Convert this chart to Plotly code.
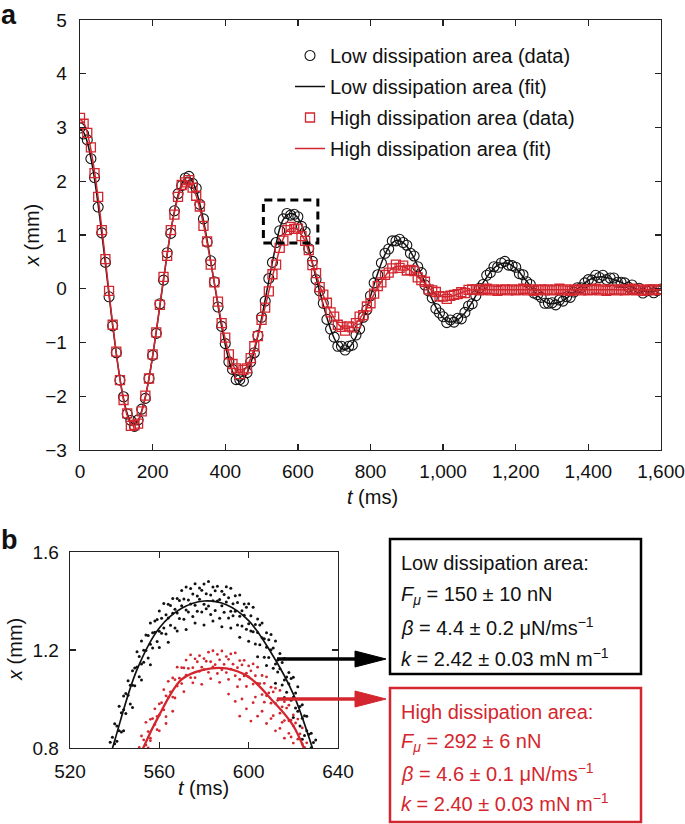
import plotly.graph_objects as go

W, H = 685, 824
FONT = "Liberation Sans"
RED = "#d3262e"
BLK = "#111111"

# ---------------- Panel a data (t in ms, x in mm) ----------------
t_grid = list(range(0, 1610, 10))

low_fit = [
    2.97, 2.91, 2.73, 2.43, 2.04, 1.56, 1.03, 0.46, -0.12, -0.69,
    -1.21, -1.67, -2.05, -2.32, -2.48, -2.52, -2.45, -2.27, -2.01, -1.67,
    -1.26, -0.80, -0.32, 0.17, 0.64, 1.07, 1.44, 1.74, 1.95, 2.06,
    2.07, 1.99, 1.83, 1.58, 1.27, 0.91, 0.51, 0.10, -0.31, -0.70,
    -1.04, -1.33, -1.54, -1.68, -1.72, -1.68, -1.57, -1.39, -1.16, -0.87,
    -0.55, -0.20, 0.15, 0.50, 0.83, 1.12, 1.29, 1.37, 1.40, 1.385,
    1.32, 1.19, 1.02, 0.76, 0.48, 0.21, -0.05, -0.30, -0.54, -0.75,
    -0.92, -1.04, -1.11, -1.13, -1.10, -1.02, -0.90, -0.74, -0.56, -0.35,
    -0.14, 0.08, 0.29, 0.48, 0.64, 0.77, 0.85, 0.90, 0.89, 0.86,
    0.79, 0.69, 0.57, 0.42, 0.27, 0.11, -0.05, -0.20, -0.34, -0.45,
    -0.54, -0.60, -0.62, -0.61, -0.58, -0.52, -0.45, -0.35, -0.25, -0.13,
    -0.01, 0.11, 0.21, 0.31, 0.38, 0.44, 0.47, 0.48, 0.47, 0.43,
    0.38, 0.31, 0.22, 0.14, 0.05, -0.04, -0.12, -0.19, -0.24, -0.27,
    -0.28, -0.27, -0.25, -0.22, -0.18, -0.12, -0.07, -0.01, 0.05, 0.11,
    0.15, 0.19, 0.21, 0.22, 0.22, 0.21, 0.19, 0.17, 0.15, 0.12,
    0.09, 0.06, 0.03, 0.00, -0.02, -0.04, -0.05, -0.05, -0.045, -0.035,
    -0.025,
]

high_fit = [
    3.15, 3.09, 2.90, 2.59, 2.18, 1.69, 1.13, 0.54, -0.07, -0.66,
    -1.20, -1.68, -2.07, -2.36, -2.52, -2.555, -2.47, -2.29, -2.02, -1.66,
    -1.25, -0.79, -0.30, 0.18, 0.64, 1.07, 1.42, 1.70, 1.90, 1.99,
    1.99, 1.90, 1.73, 1.49, 1.20, 0.86, 0.49, 0.11, -0.27, -0.63,
    -0.94, -1.20, -1.40, -1.52, -1.56, -1.53, -1.44, -1.30, -1.10, -0.87,
    -0.61, -0.33, -0.05, 0.23, 0.48, 0.74, 0.935, 1.08, 1.12, 1.125,
    1.09, 1.00, 0.89, 0.68, 0.47, 0.27, 0.07, -0.12, -0.29, -0.43,
    -0.55, -0.65, -0.71, -0.74, -0.73, -0.70, -0.64, -0.56, -0.46, -0.35,
    -0.23, -0.10, 0.02, 0.13, 0.23, 0.32, 0.38, 0.41, 0.42, 0.41,
    0.38, 0.34, 0.29, 0.22, 0.16, 0.09, 0.02, -0.04, -0.09, -0.12,
    -0.145, -0.15, -0.14, -0.125, -0.10, -0.075, -0.05, -0.03, -0.02, -0.02,
    -0.02, -0.02, -0.02, -0.02, -0.02, -0.02, -0.02, -0.02, -0.02, -0.02,
    -0.02, -0.02, -0.02, -0.02, -0.02, -0.02, -0.02, -0.02, -0.02, -0.02,
    -0.02, -0.02, -0.02, -0.02, -0.02, -0.02, -0.02, -0.02, -0.02, -0.02,
    -0.02, -0.02, -0.02, -0.02, -0.02, -0.02, -0.02, -0.02, -0.02, -0.02,
    -0.02, -0.02, -0.02, -0.02, -0.02, -0.02, -0.02, -0.02, -0.02, -0.02,
    -0.02,
]

low_data = [
    2.99, 2.88, 2.77, 2.42, 2.07, 1.52, 1.04, 0.49, -0.15, -0.69,
    -1.19, -1.70, -2.01, -2.33, -2.45, -2.56, -2.44, -2.24, -2.04, -1.67,
    -1.24, -0.83, -0.28, 0.16, 0.67, 1.03, 1.45, 1.77, 1.92, 2.06,
    2.09, 1.96, 1.87, 1.57, 1.30, 0.87, 0.52, 0.13, -0.34, -0.70,
    -1.02, -1.36, -1.50, -1.69, -1.69, -1.72, -1.56, -1.36, -1.19, -0.87,
    -0.53, -0.23, 0.19, 0.49, 0.86, 1.08, 1.30, 1.40, 1.37, 1.385,
    1.34, 1.16, 1.06, 0.75, 0.51, 0.17, -0.04, -0.27, -0.57, -0.75,
    -0.90, -1.07, -1.07, -1.14, -1.07, -1.05, -0.86, -0.75, -0.53, -0.39,
    -0.13, 0.11, 0.26, 0.48, 0.66, 0.74, 0.89, 0.89, 0.92, 0.86,
    0.81, 0.66, 0.61, 0.41, 0.30, 0.07, -0.04, -0.17, -0.37, -0.45,
    -0.52, -0.63, -0.58, -0.62, -0.55, -0.56, -0.44, -0.32, -0.28, -0.13,
    0.01, 0.08, 0.25, 0.30, 0.41, 0.40, 0.48, 0.51, 0.44, 0.43,
    0.40, 0.28, 0.26, 0.13, 0.08, -0.08, -0.11, -0.16, -0.27, -0.27,
    -0.26, -0.30, -0.21, -0.23, -0.15, -0.16, -0.06, 0.02, 0.02, 0.11,
    0.17, 0.16, 0.25, 0.21, 0.25, 0.17, 0.20, 0.20, 0.12, 0.12,
    0.11, 0.03, 0.07, -0.01, 0.01, -0.08, -0.04, -0.02, -0.075, -0.035,
    -0.005,
]

high_data = [
    3.18, 3.07, 2.90, 2.63, 2.15, 1.71, 1.09, 0.55, -0.04, -0.67,
    -1.17, -1.70, -2.07, -2.32, -2.55, -2.535, -2.51, -2.28, -1.99, -1.67,
    -1.22, -0.81, -0.30, 0.22, 0.61, 1.09, 1.38, 1.71, 1.93, 1.98,
    2.02, 1.88, 1.73, 1.53, 1.17, 0.88, 0.45, 0.12, -0.24, -0.64,
    -0.91, -1.22, -1.40, -1.48, -1.59, -1.51, -1.48, -1.29, -1.07, -0.88,
    -0.58, -0.35, -0.05, 0.27, 0.45, 0.76, 0.895, 1.09, 1.15, 1.115,
    1.12, 0.98, 0.89, 0.72, 0.44, 0.29, 0.03, -0.11, -0.26, -0.44,
    -0.52, -0.67, -0.71, -0.78, -0.70, -0.72, -0.64, -0.52, -0.49, -0.33,
    -0.27, -0.09, 0.05, 0.12, 0.26, 0.30, 0.38, 0.45, 0.39, 0.43,
    0.34, 0.35, 0.33, 0.21, 0.16, 0.13, -0.01, -0.03, -0.06, -0.14,
    -0.145, -0.19, -0.13, -0.115, -0.10, -0.065, -0.08, -0.02, -0.01, -0.01,
    -0.03, -0.02, 0.00, -0.03, -0.01, -0.04, -0.02, -0.01, -0.03, -0.01,
    -0.03, -0.02, 0.00, -0.03, -0.01, -0.04, -0.02, -0.01, -0.03, -0.01,
    -0.03, -0.02, 0.00, -0.03, -0.01, -0.04, -0.02, -0.01, -0.03, -0.01,
    -0.03, -0.02, 0.00, -0.03, -0.01, -0.04, -0.02, -0.01, -0.03, -0.01,
    -0.03, -0.02, 0.00, -0.03, -0.01, -0.04, -0.02, -0.01, -0.03, -0.01,
    -0.02,
]

# ---------------- Panel b data (zoom on third peak) ----------------
b_low_t1 = list(range(536, 631, 2))
b_low_x1 = [0.785, 0.823, 0.899, 0.970, 1.012, 1.075, 1.115, 1.193, 1.237, 1.261,
            1.310, 1.318, 1.359, 1.390, 1.387, 1.410, 1.410, 1.443, 1.457, 1.451,
            1.470, 1.453, 1.469, 1.480, 1.457, 1.460, 1.440, 1.458, 1.452, 1.421,
            1.425, 1.388, 1.389, 1.375, 1.327, 1.310, 1.270, 1.263, 1.237, 1.186,
            1.165, 1.108, 1.089, 1.050, 0.977, 0.930, 0.860, 0.833]
b_low_t2 = list(range(537, 632, 2))
b_low_x2 = [0.760, 0.844, 0.890, 0.944, 1.022, 1.056, 1.127, 1.173, 1.199, 1.259,
            1.270, 1.324, 1.330, 1.344, 1.382, 1.366, 1.402, 1.408, 1.404, 1.429,
            1.420, 1.444, 1.430, 1.424, 1.442, 1.406, 1.427, 1.413, 1.389, 1.394,
            1.360, 1.374, 1.340, 1.304, 1.302, 1.246, 1.242, 1.208, 1.159, 1.149,
            1.090, 1.084, 1.025, 0.969, 0.932, 0.856, 0.822, 0.763]
b_low_t3 = list(range(538, 631, 2))
b_low_x3 = [0.777, 0.817, 0.870, 0.956, 1.015, 1.056, 1.131, 1.143, 1.198, 1.223,
            1.272, 1.277, 1.290, 1.331, 1.350, 1.351, 1.381, 1.363, 1.388, 1.383,
            1.407, 1.387, 1.380, 1.401, 1.400, 1.381, 1.396, 1.358, 1.358, 1.338,
            1.342, 1.307, 1.275, 1.271, 1.250, 1.211, 1.201, 1.143, 1.123, 1.078,
            1.062, 1.007, 0.950, 0.921, 0.870, 0.801, 0.771]
b_low_t4 = list(range(539, 630, 2))
b_low_x4 = [0.755, 0.828, 0.865, 0.941, 0.980, 1.054, 1.091, 1.150, 1.167, 1.208,
            1.235, 1.268, 1.265, 1.301, 1.290, 1.329, 1.326, 1.355, 1.337, 1.358,
            1.355, 1.368, 1.345, 1.361, 1.330, 1.354, 1.331, 1.340, 1.302, 1.298,
            1.285, 1.278, 1.225, 1.221, 1.170, 1.169, 1.126, 1.110, 1.057, 1.028,
            0.995, 0.963, 0.890, 0.851, 0.780, 0.749]
b_low_t5 = list(range(544, 625, 4))
b_low_x5 = [0.870, 0.965, 1.078, 1.140, 1.210, 1.232, 1.278, 1.284, 1.310, 1.302,
            1.318, 1.295, 1.290, 1.252, 1.236, 1.172, 1.137, 1.064, 1.006, 0.925,
            0.836]

b_high_t1 = list(range(548, 627, 2))
b_high_x1 = [0.760, 0.788, 0.849, 0.905, 0.917, 0.960, 0.980, 1.038, 1.072, 1.086,
             1.130, 1.128, 1.159, 1.180, 1.164, 1.177, 1.165, 1.191, 1.197, 1.182,
             1.196, 1.173, 1.184, 1.188, 1.157, 1.158, 1.135, 1.143, 1.130, 1.096,
             1.090, 1.048, 1.044, 1.035, 0.989, 0.975, 0.935, 0.918, 0.882, 0.821]
b_high_t2 = list(range(549, 628, 2))
b_high_x2 = [0.730, 0.802, 0.833, 0.867, 0.920, 0.929, 0.985, 1.013, 1.029, 1.079,
             1.085, 1.127, 1.125, 1.128, 1.152, 1.130, 1.154, 1.152, 1.140, 1.160,
             1.141, 1.162, 1.142, 1.128, 1.139, 1.105, 1.115, 1.095, 1.063, 1.064,
             1.025, 1.029, 0.995, 0.968, 0.963, 0.914, 0.902, 0.858, 0.802, 0.777]
b_high_t3 = list(range(552, 627, 2))
b_high_x3 = [0.787, 0.812, 0.840, 0.896, 0.935, 0.956, 1.006, 1.008, 1.053, 1.063,
             1.097, 1.087, 1.087, 1.113, 1.120, 1.109, 1.131, 1.104, 1.119, 1.108,
             1.122, 1.095, 1.080, 1.094, 1.090, 1.061, 1.064, 1.018, 1.013, 0.983,
             0.982, 0.942, 0.912, 0.911, 0.890, 0.836, 0.816, 0.743]
b_high_t4 = list(range(555, 620, 4))
b_high_x4 = [0.800, 0.875, 0.928, 1.004, 1.030, 1.066, 1.060, 1.083, 1.068, 1.080,
             1.050, 1.051, 1.008, 0.987, 0.932, 0.905, 0.845]
b_high_t5 = [556, 560, 563, 566, 591, 594, 596, 597, 599, 601,
             602, 604, 606, 608, 610, 612, 614, 616, 618, 620]
b_high_x5 = [0.83, 0.87, 0.90, 0.95, 1.02, 0.99, 0.93, 1.00, 0.96, 0.91,
             0.985, 0.93, 0.95, 0.90, 0.92, 0.87, 0.88, 0.84, 0.86, 0.82]


def pairs(*groups):
    ts, xs = [], []
    for t, x in groups:
        for a, b in zip(t, x):
            ts.append(a)
            xs.append(b)
    return ts, xs


b_low_t, b_low_x = pairs((b_low_t1, b_low_x1), (b_low_t2, b_low_x2), (b_low_t3, b_low_x3),
                         (b_low_t4, b_low_x4), (b_low_t5, b_low_x5))
b_high_t, b_high_x = pairs((b_high_t1, b_high_x1), (b_high_t2, b_high_x2), (b_high_t3, b_high_x3),
                           (b_high_t4, b_high_x4), (b_high_t5, b_high_x5))

legend_names = ["Low dissipation area (data)", "Low dissipation area (fit)",
                "High dissipation area (data)", "High dissipation area (fit)"]

low_box = ["Low dissipation area:",
           "<i>F</i><sub><i>μ</i></sub> = 150 ± 10 nN",
           "<i>β</i> = 4.4 ± 0.2 μN/ms<sup>−1</sup>",
           "<i>k</i> = 2.42 ± 0.03 mN m<sup>−1</sup>"]
high_box = ["High dissipation area:",
            "<i>F</i><sub><i>μ</i></sub> = 292 ± 6 nN",
            "<i>β</i> = 4.6 ± 0.1 μN/ms<sup>−1</sup>",
            "<i>k</i> = 2.40 ± 0.03 mN m<sup>−1</sup>"]


def px(x):
    return x / W


def py(y):
    return 1 - y / H


fig = go.Figure()

# Panel a traces
fig.add_trace(go.Scatter(x=t_grid, y=low_data, mode="markers", name=legend_names[0],
                         legendgroup="g1",
                         marker=dict(symbol="circle-open", size=10, color=BLK, line=dict(width=1.1, color=BLK)),
                         xaxis="x", yaxis="y"))
fig.add_trace(go.Scatter(x=t_grid, y=low_fit, mode="lines", name=legend_names[1],
                         legendgroup="g2", line=dict(color=BLK, width=1.5, shape="spline"),
                         xaxis="x", yaxis="y"))
fig.add_trace(go.Scatter(x=t_grid, y=high_data, mode="markers", name=legend_names[2],
                         legendgroup="g3",
                         marker=dict(symbol="square-open", size=9, color=RED, line=dict(width=1.3, color=RED)),
                         xaxis="x", yaxis="y"))
fig.add_trace(go.Scatter(x=t_grid, y=high_fit, mode="lines", name=legend_names[3],
                         legendgroup="g4", line=dict(color=RED, width=1.5, shape="spline"),
                         xaxis="x", yaxis="y"))

# Panel b traces
fig.add_trace(go.Scatter(x=b_low_t, y=b_low_x, mode="markers", showlegend=False,
                         marker=dict(symbol="circle", size=3, color=BLK), xaxis="x2", yaxis="y2"))
fig.add_trace(go.Scatter(x=b_high_t, y=b_high_x, mode="markers", showlegend=False,
                         marker=dict(symbol="circle", size=2.8, color=RED), xaxis="x2", yaxis="y2"))
fig.add_trace(go.Scatter(x=t_grid, y=low_fit, mode="lines", showlegend=False,
                         line=dict(color=BLK, width=1.7, shape="spline"), xaxis="x2", yaxis="y2"))
fig.add_trace(go.Scatter(x=t_grid, y=high_fit, mode="lines", showlegend=False,
                         line=dict(color=RED, width=2.3, shape="spline"), xaxis="x2", yaxis="y2"))

axis_common = dict(showline=True, linecolor="#222", linewidth=1.4, mirror="ticks",
                   ticks="inside", ticklen=6, tickwidth=1.3, tickcolor="#222",
                   showgrid=False, zeroline=False, automargin=False,
                   tickfont=dict(family=FONT, size=19, color="#111"))

fig.update_layout(
    template="none",
    width=W, height=H, autosize=False,
    margin=dict(l=0, r=0, t=0, b=0, pad=0),
    paper_bgcolor="white", plot_bgcolor="white",
    font=dict(family=FONT, size=19, color="#111"),
    xaxis=dict(domain=[px(80), px(661)], range=[0, 1600], dtick=200, tick0=0,
               tickformat=",d", anchor="y", ticklabelstandoff=4, **axis_common),
    yaxis=dict(domain=[py(450), py(20)], range=[-3, 5], dtick=1, tick0=0,
               anchor="x", ticklabelstandoff=8, **axis_common),
    xaxis2=dict(domain=[px(70), px(338)], range=[520, 640], dtick=40, tick0=520,
                anchor="y2", ticklabelstandoff=6, **axis_common),
    yaxis2=dict(domain=[py(748), py(552)], range=[0.8, 1.6], dtick=0.4, tick0=0.8,
                tickformat=".1f", anchor="x2", ticklabelstandoff=6, **axis_common),
    legend=dict(x=px(290), y=py(36), xanchor="left", yanchor="top",
                bgcolor="rgba(0,0,0,0)", borderwidth=0, traceorder="grouped",
                tracegroupgap=2, font=dict(family=FONT, size=20, color="#111")),
)

shapes = []
# dashed zoom box on panel a
shapes.append(dict(type="rect", xref="x", yref="y", x0=505, x1=655, y0=0.85, y1=1.65,
                   line=dict(color="black", width=3, dash="8px,5px")))
# arrows (line + head)
for yy, col in ((659, "black"), (699, RED)):
    shapes.append(dict(type="line", xref="paper", yref="paper",
                       x0=px(277), x1=px(360), y0=py(yy), y1=py(yy),
                       line=dict(color=col, width=3.5)))
    shapes.append(dict(type="path", xref="paper", yref="paper",
                       path=f"M {px(355)},{py(yy - 8)} L {px(386)},{py(yy)} L {px(355)},{py(yy + 8)} Z",
                       fillcolor=col, line=dict(color=col, width=1)))
# parameter boxes
shapes.append(dict(type="rect", xref="paper", yref="paper", x0=px(390), x1=px(641),
                   y0=py(674), y1=py(539), line=dict(color="black", width=2.5)))
shapes.append(dict(type="rect", xref="paper", yref="paper", x0=px(390), x1=px(641),
                   y0=py(822), y1=py(688), line=dict(color=RED, width=2.5)))

annotations = []


def text(x, y, s, size=20, color="#111", xanchor="center", angle=0, bold=False):
    if bold:
        s = f"<b>{s}</b>"
    annotations.append(dict(x=px(x), y=py(y), xref="paper", yref="paper", text=s,
                            showarrow=False, xanchor=xanchor, yanchor="middle",
                            textangle=angle, font=dict(family=FONT, size=size, color=color)))


text(9, 15, "a", size=27, bold=True)
text(9, 540, "b", size=27, bold=True)
text(372, 497, "<i>t</i> (ms)")
text(32, 235, "<i>x</i> (mm)", angle=-90)
text(203, 788, "<i>t</i> (ms)")
text(15, 650, "<i>x</i> (mm)", angle=-90)

for s, yy in zip(low_box, (563, 595, 626, 657)):
    text(399, yy, s, color="#111", xanchor="left")
for s, yy in zip(high_box, (712, 742, 772, 802)):
    text(399, yy, s, color=RED, xanchor="left")

fig.update_layout(shapes=shapes, annotations=annotations)

fig.write_html("out.html",
               config={"displayModeBar": False, "staticPlot": True},
               post_script="document.body.style.margin='0';document.body.style.padding='0';"
                           "document.body.style.overflow='hidden';")
